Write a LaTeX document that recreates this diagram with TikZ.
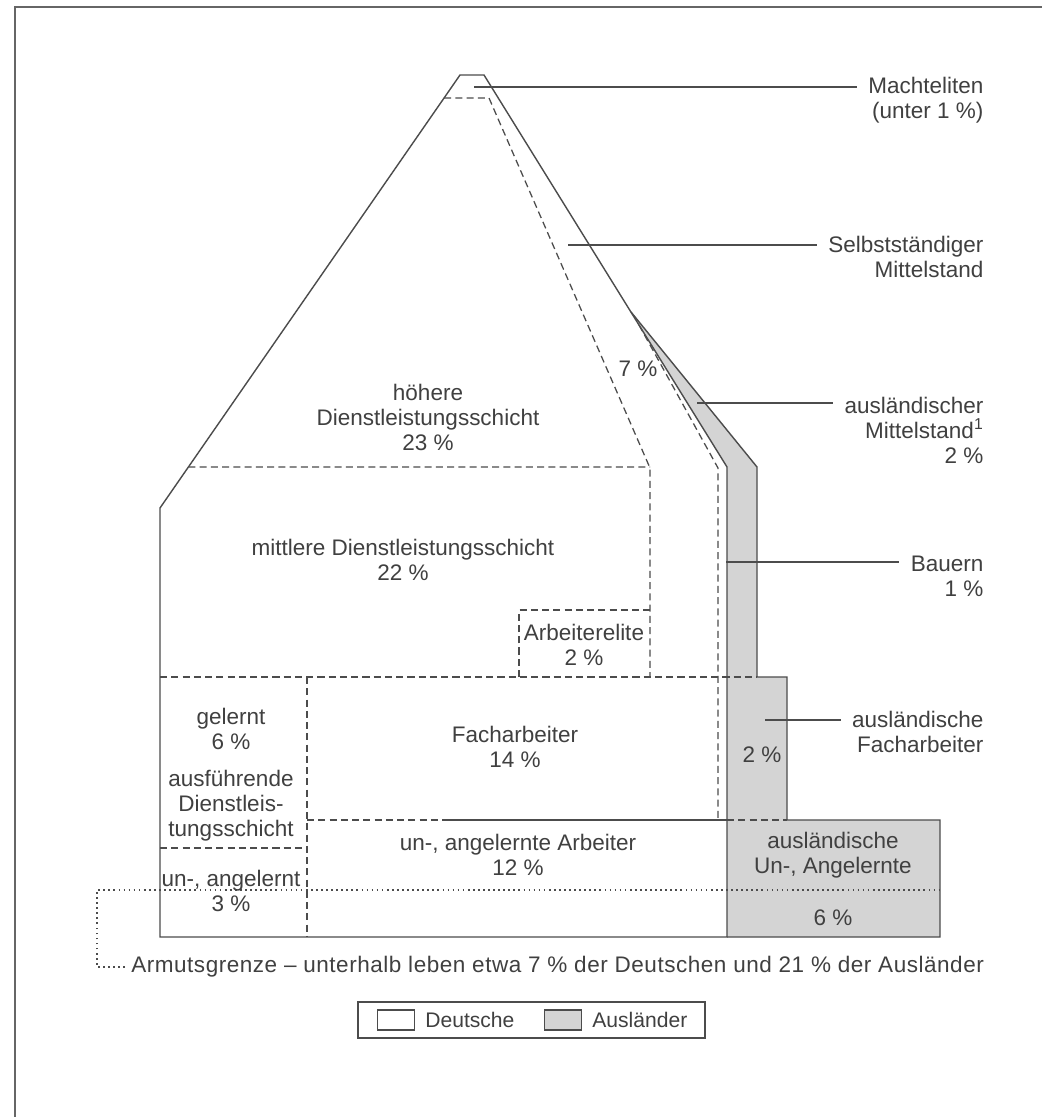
\documentclass[tikz,border=0pt]{standalone}
\usepackage{fontspec}
\setmainfont{Liberation Sans}
\usetikzlibrary{positioning}

\begin{document}
\begin{tikzpicture}[
  x=0.025cm, y=-0.025cm,
  font=\fontsize{16}{17.8}\selectfont,
  wall/.style = {draw=black!70, line width=1pt, line join=miter},
  sep/.style = {draw=black!70, line width=0.9pt, dash pattern=on 5pt off 3pt},
  poor/.style = {draw=black!70, line width=0.9pt, dash pattern=on 1.2pt off 2.4pt},
  lead/.style = {draw=black!70, line width=0.8pt},
  foreign/.style = {fill=black!17},
  txt/.style = {text=black!75, align=center, inner sep=0pt},
  side/.style = {text=black!75, align=right, inner sep=8pt, anchor=east},
  swatch/.style = {draw=black!70, line width=0.8pt, minimum width=0.925cm, minimum height=0.5cm, inner sep=0pt},
  legbox/.style = {draw=black!70, line width=0.8pt, minimum width=8.675cm, minimum height=0.9cm, inner sep=0pt}
]

\fill[white] (0,0) rectangle (1046,1117);
\useasboundingbox (0,0) rectangle (1046,1117);

% frame
\draw[black!60, line width=1pt] (15,1117) -- (15,7) -- (1042,7);

% ====== foreign part (grey) ======
\fill[foreign] (631,312) -- (757,467) -- (757,677) -- (787,677) -- (787,820)
  -- (940,820) -- (940,937) -- (727,937) -- (727,467) -- cycle;

% ====== divisions ======
\coordinate (lt) at (160,508);
\coordinate (ap) at (460,75);
\draw[sep] (intersection of lt--ap and 0,98--100,98) -- (489,98) -- (650,468) -- (650,677);
\draw[sep] (intersection of lt--ap and 0,467--100,467) -- (650,467);
\draw[sep] (519,677) -- (519,610) -- (650,610);
\draw[sep] (160,677) -- (757,677);
\draw[sep] (639,325) -- (718,468) -- (718,820);
\draw[sep] (307,677) -- (307,937);
\draw[sep] (160,848) -- (307,848);
\draw[sep] (307,820) -- (447,820);
\draw[sep] (727,820) -- (787,820);
\draw[wall] (447,820) -- (727,820);

% poverty line
\draw[poor] (125,967) -- (97,967) -- (97,890) -- (940,890);

% ====== outlines ======
\draw[wall] (160,937) -- (lt) -- (ap) -- (484,75) -- (727,467) -- (727,937) -- cycle;
\draw[wall] (631,312) -- (757,467) -- (757,677) -- (787,677) -- (787,820)
  -- (940,820) -- (940,937) -- (727,937);

% ====== texts in the house ======
\node[txt] (hoeh) at (428,417) {höhere\\Dienstleistungsschicht\\23 \%};
\node[txt] (selbpc) at (638,369) {7 \%};
\node[txt] (mitt) at (403,560) {mittlere Dienstleistungsschicht\\22 \%};
\node[txt] (elite) at (584,645) {Arbeiterelite\\2 \%};
\node[txt] (gel) at (231,729) {gelernt\\6 \%};
\node[txt] (ausf) at (231,806) {ausführende\\Dienstleis-\\tungsschicht};
\node[txt] (unang) at (231,891) {un-, angelernt\\3 \%};
\node[txt] (fach) at (515,747) {Facharbeiter\\14 \%};
\node[txt] (ungel) at (518,855) {un-, angelernte Arbeiter\\12 \%};
\node[txt] (afpc) at (762,755) {2 \%};
\node[txt] (aun) at (833,855) {ausländische\\Un-, Angelernte};
\node[txt] (aunpc) at (833,918) {6 \%};

% ====== side labels ======
\coordinate (pmach) at (474,87);
\coordinate (pselb) at (568,245);
\coordinate (pamit) at (697,403);
\coordinate (pbau) at (726,562);
\coordinate (pafa) at (765,720);

\node[side] (mach) at (995,100) {Machteliten\\(unter 1 \%)};
\node[side] (selb) at (995,257) {Selbstständiger\\Mittelstand};
\node[side] (amit) at (995,430) {ausländischer\\Mittelstand\textsuperscript{1}\\2 \%};
\node[side] (bau) at (995,576) {Bauern\\1 \%};
\node[side] (afa) at (995,732) {ausländische\\Facharbeiter};

\draw[lead] (pmach) -- (pmach -| mach.west);
\draw[lead] (pselb) -- (pselb -| selb.west);
\draw[lead] (pamit) -- (pamit -| amit.west);
\draw[lead] (pbau) -- (pbau -| bau.west);
\draw[lead] (pafa) -- (pafa -| afa.west);

\node[txt, anchor=west, font=\fontsize{16}{17.8}\selectfont\addfontfeature{LetterSpace=2.4}] (armut) at (131,967)
  {Armutsgrenze – unterhalb leben etwa 7 \% der Deutschen und 21 \% der Ausländer};

% ====== legend ======
\node[legbox] (leg) at (531.5,1020) {};
\node[swatch] (swde) at (396,1020) {};
\node[txt, right=2.5mm of swde, font=\fontsize{15}{17}\selectfont] (lde) {Deutsche};
\node[swatch, foreign] (swau) at (563,1020) {};
\node[txt, right=2.5mm of swau, font=\fontsize{15}{17}\selectfont] (lau) {Ausländer};

\end{tikzpicture}
\end{document}
